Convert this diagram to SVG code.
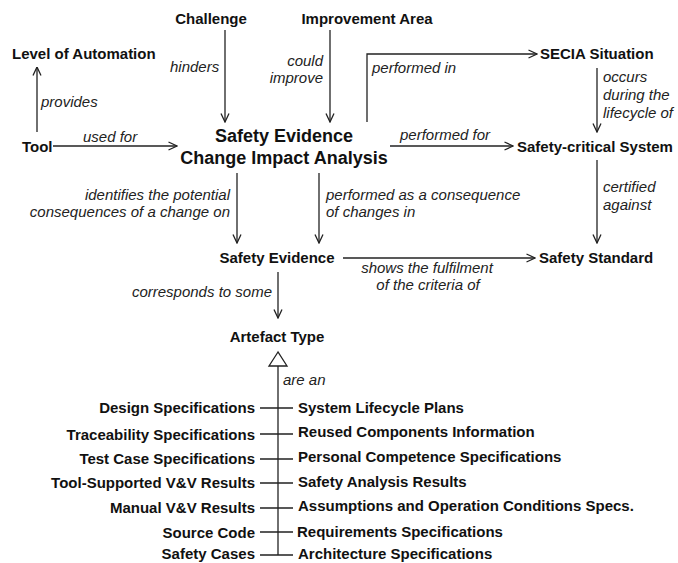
<svg xmlns="http://www.w3.org/2000/svg" width="678" height="563" viewBox="0 0 678 563">
<style>
.n{font-family:"Liberation Sans",Arial,sans-serif;font-weight:bold;font-size:15px;fill:#111}
.big{font-size:18px}
.l{font-family:"Liberation Sans",Arial,sans-serif;font-style:italic;font-size:15px;fill:#222}
.c{fill:none;stroke:#222;stroke-width:1.3}
.e{text-anchor:end}
.m{text-anchor:middle}
</style>
<defs>
<marker id="arr" viewBox="0 0 10 10" refX="9.5" refY="5" markerWidth="10" markerHeight="10" markerUnits="userSpaceOnUse" orient="auto">
<path d="M1,1 L9.5,5 L1,9" fill="none" stroke="#222" stroke-width="1.3"/>
</marker>
</defs>
<rect width="678" height="563" fill="#fff"/>
<g id="connectors">
<path class="c" d="M37,132 V67" marker-end="url(#arr)"/>
<path class="c" d="M53,146 H177" marker-end="url(#arr)"/>
<path class="c" d="M225,30 V122" marker-end="url(#arr)"/>
<path class="c" d="M330,30 V122" marker-end="url(#arr)"/>
<path class="c" d="M367,122 V54 H537" marker-end="url(#arr)"/>
<path class="c" d="M390,146 H513" marker-end="url(#arr)"/>
<path class="c" d="M597,68 V132" marker-end="url(#arr)"/>
<path class="c" d="M597,160 V243" marker-end="url(#arr)"/>
<path class="c" d="M237,173 V243" marker-end="url(#arr)"/>
<path class="c" d="M319,173 V243" marker-end="url(#arr)"/>
<path class="c" d="M343,258 H535" marker-end="url(#arr)"/>
<path class="c" d="M278,272 V318" marker-end="url(#arr)"/>
<polygon class="c" points="278,352 269,366 287,366"/>
<path class="c" d="M278,366 V555"/>
<path class="c" d="M260,408 H293 M260,434 H293 M260,459 H293 M260,483 H293 M260,508 H293 M260,532 H293 M260,555 H293"/>
<text class="l" x="41" y="107">provides</text>
<text class="l" x="83" y="142">used for</text>
<text class="l" x="170" y="72">hinders</text>
<text class="l e" x="323" y="66">could</text>
<text class="l e" x="323" y="83">improve</text>
<text class="l" x="372" y="73">performed in</text>
<text class="l" x="400" y="140">performed for</text>
<text class="l" x="603" y="82">occurs</text>
<text class="l" x="603" y="100">during the</text>
<text class="l" x="603" y="118">lifecycle of</text>
<text class="l" x="603" y="192">certified</text>
<text class="l" x="603" y="210">against</text>
<text class="l e" x="230" y="200">identifies the potential</text>
<text class="l e" x="230" y="217">consequences of a change on</text>
<text class="l" x="326" y="200">performed as a consequence</text>
<text class="l" x="326" y="217">of changes in</text>
<text class="l m" x="427" y="273">shows the fulfilment</text>
<text class="l m" x="428" y="290">of the criteria of</text>
<text class="l e" x="272" y="297">corresponds to some</text>
<text class="l" x="283" y="385">are an</text>
</g>
<g id="challenge"><text class="n m" x="211" y="24">Challenge</text></g>
<g id="improvement-area"><text class="n m" x="367" y="24">Improvement Area</text></g>
<g id="level-of-automation"><text class="n" x="12" y="59">Level of Automation</text></g>
<g id="tool"><text class="n" x="22" y="152">Tool</text></g>
<g id="seca"><text class="n big m" x="284" y="142">Safety Evidence</text><text class="n big m" x="284" y="164">Change Impact Analysis</text></g>
<g id="secia-situation"><text class="n" x="540" y="59">SECIA Situation</text></g>
<g id="safety-critical-system"><text class="n" x="517" y="152">Safety-critical System</text></g>
<g id="safety-evidence"><text class="n m" x="277" y="263">Safety Evidence</text></g>
<g id="safety-standard"><text class="n" x="539" y="263">Safety Standard</text></g>
<g id="artefact-type"><text class="n m" x="277" y="342">Artefact Type</text></g>
<g id="design-specifications"><text class="n e" x="255" y="413">Design Specifications</text></g>
<g id="traceability-specifications"><text class="n e" x="255" y="440">Traceability Specifications</text></g>
<g id="test-case-specifications"><text class="n e" x="255" y="464">Test Case Specifications</text></g>
<g id="tool-supported-vv-results"><text class="n e" x="255" y="488">Tool-Supported V&amp;V Results</text></g>
<g id="manual-vv-results"><text class="n e" x="255" y="513">Manual V&amp;V Results</text></g>
<g id="source-code"><text class="n e" x="255" y="538">Source Code</text></g>
<g id="safety-cases"><text class="n e" x="255" y="559">Safety Cases</text></g>
<g id="system-lifecycle-plans"><text class="n" x="298" y="413">System Lifecycle Plans</text></g>
<g id="reused-components-information"><text class="n" x="298" y="437">Reused Components Information</text></g>
<g id="personal-competence-specifications"><text class="n" x="298" y="462">Personal Competence Specifications</text></g>
<g id="safety-analysis-results"><text class="n" x="298" y="487">Safety Analysis Results</text></g>
<g id="assumptions-specs"><text class="n" x="298" y="511">Assumptions and Operation Conditions Specs.</text></g>
<g id="requirements-specifications"><text class="n" x="297" y="537">Requirements Specifications</text></g>
<g id="architecture-specifications"><text class="n" x="298" y="559">Architecture Specifications</text></g>
</svg>
